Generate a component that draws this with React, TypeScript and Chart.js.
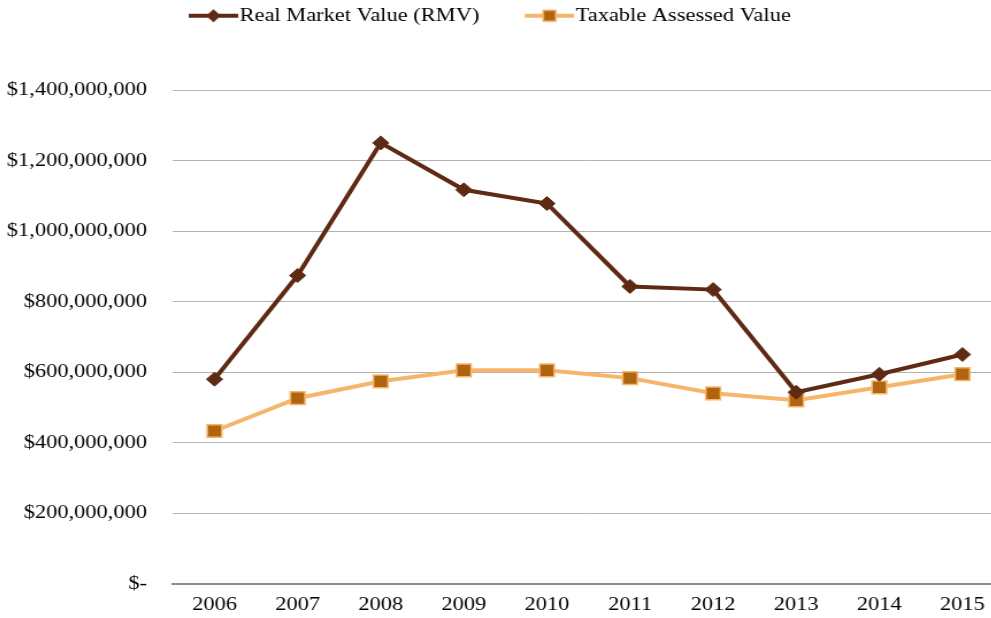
import React, { useEffect, useRef } from "react";
import { Chart, registerables } from "chart.js";

Chart.register(...registerables);

// ---- data ----
const years = ["2006", "2007", "2008", "2009", "2010", "2011", "2012", "2013", "2014", "2015"];
const realMarketValue = [580e6, 874e6, 1250e6, 1117e6, 1078e6, 843e6, 834e6, 543e6, 594e6, 650e6];
const taxableAssessedValue = [433e6, 526e6, 574e6, 605e6, 605e6, 583e6, 540e6, 520e6, 557e6, 594e6];
const seriesNames = ["Real Market Value (RMV)", "Taxable Assessed Value"];
const yTickLabels = [
  "$-",
  "$200,000,000",
  "$400,000,000",
  "$600,000,000",
  "$800,000,000",
  "$1,000,000,000",
  "$1,200,000,000",
  "$1,400,000,000",
];

// ---- style ----
const RMV_COLOR = "#5f2a14";
const TAV_LINE = "#f5b66c";
const TAV_FILL = "#b1640f";
const FONT = "'Liberation Serif', 'Times New Roman', serif";
const STRETCH = 1.15;
const W = 894;
const H = 618;
const SHIFT = 24;

function legendIcon(kind: "diamond" | "square"): HTMLCanvasElement {
  const c = document.createElement("canvas");
  c.width = 51;
  c.height = 20;
  const g = c.getContext("2d")!;
  const x0 = 8;
  const x1 = 51;
  const cy = 10;
  const cx = (x0 + x1) / 2;
  g.lineWidth = 4;
  g.strokeStyle = kind === "diamond" ? RMV_COLOR : TAV_LINE;
  g.beginPath();
  g.moveTo(x0, cy);
  g.lineTo(x1, cy);
  g.stroke();
  if (kind === "diamond") {
    const r = 6.5;
    g.fillStyle = RMV_COLOR;
    g.beginPath();
    g.moveTo(cx - r, cy);
    g.lineTo(cx, cy - r);
    g.lineTo(cx + r, cy);
    g.lineTo(cx, cy + r);
    g.closePath();
    g.fill();
  } else {
    const s = 5.5;
    g.fillStyle = TAV_FILL;
    g.strokeStyle = TAV_LINE;
    g.lineWidth = 1.5;
    g.beginPath();
    g.rect(cx - s, cy - s, 2 * s, 2 * s);
    g.fill();
    g.stroke();
  }
  return c;
}

export default function App() {
  const ref = useRef<HTMLCanvasElement>(null);

  useEffect(() => {
    const canvas = ref.current!;
    const icons = [legendIcon("diamond"), legendIcon("square")];
    const chart = new Chart(canvas, {
      type: "line",
      data: {
        labels: years,
        datasets: [
          {
            label: seriesNames[0],
            data: realMarketValue,
            borderColor: RMV_COLOR,
            backgroundColor: RMV_COLOR,
            borderWidth: 4,
            tension: 0,
            pointStyle: "rectRot",
            pointRadius: 7,
            pointBackgroundColor: RMV_COLOR,
            pointBorderColor: RMV_COLOR,
            pointBorderWidth: 1,
          },
          {
            label: seriesNames[1],
            data: taxableAssessedValue,
            borderColor: TAV_LINE,
            backgroundColor: TAV_FILL,
            borderWidth: 4,
            tension: 0,
            pointStyle: "rect",
            pointRadius: 9,
            pointBackgroundColor: TAV_FILL,
            pointBorderColor: TAV_LINE,
            pointBorderWidth: 1.5,
          },
        ],
      },
      options: {
        responsive: false,
        animation: false,
        devicePixelRatio: 1,
        layout: { autoPadding: false, padding: { top: -34, left: 0, right: 0, bottom: 0 } },
        font: { family: FONT, size: 19.5 },
        plugins: {
          tooltip: { enabled: false },
          legend: {
            position: "top",
            align: "center",
            weight: 3000,
            labels: {
              usePointStyle: true,
              pointStyleWidth: 34,
              padding: 40,
              color: "#000",
              font: { family: FONT, size: 19.5 },
              generateLabels: (ch: any) => {
                const items = Chart.defaults.plugins.legend.labels.generateLabels(ch);
                return items.map((it: any, i: number) => ({ ...it, pointStyle: icons[i] }));
              },
            },
          },
          title: {
            display: true,
            text: " ",
            font: { size: 10 },
            padding: { top: 0, bottom: 42.5 },
          },
        },
        scales: {
          x: {
            type: "category",
            offset: true,
            grid: { display: false, drawTicks: false },
            border: { display: true, color: "#8c8c8c", width: 2 },
            ticks: {
              color: "#000",
              font: { family: FONT, size: 19.5 },
              padding: 9,
              autoSkip: false,
              maxRotation: 0,
            },
            afterFit: (s: any) => {
              s.height = 33;
            },
          },
          y: {
            min: 0,
            max: 1.4e9,
            ticks: {
              stepSize: 2e8,
              color: "#000",
              font: { family: FONT, size: 19.5 },
              padding: 22.6,
              callback: (_v: any, i: number) => yTickLabels[i],
            },
            grid: {
              drawTicks: false,
              lineWidth: 1,
              color: (ctx: any) => (ctx.tick && ctx.tick.value === 0 ? "rgba(0,0,0,0)" : "#b3b3b3"),
            },
            border: { display: false },
            afterFit: (s: any) => {
              s.width = 171.3;
            },
          },
        },
      },
    } as any);
    return () => chart.destroy();
  }, []);

  return (
    <div
      style={{
        position: "absolute",
        left: 0,
        top: 0,
        width: 991,
        height: 618,
        overflow: "hidden",
        background: "#fff",
      }}
    >
      <canvas
        ref={ref}
        width={W}
        height={H}
        style={{
          position: "absolute",
          left: -SHIFT,
          top: 0,
          width: `${W * STRETCH}px`,
          height: `${H}px`,
        }}
      />
    </div>
  );
}
